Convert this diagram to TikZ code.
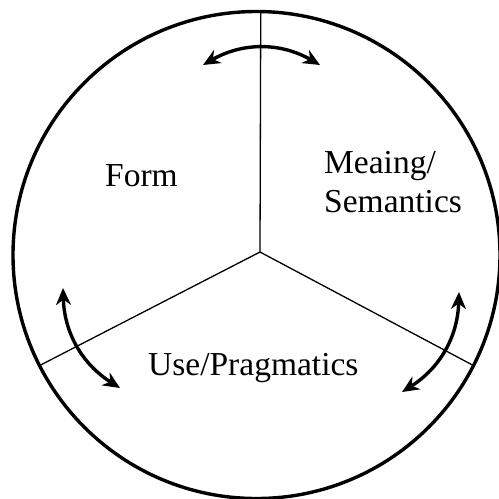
\documentclass[tikz,border=0pt]{standalone}
\usepackage{fontspec}
\setmainfont{Liberation Serif}
\usetikzlibrary{arrows.meta}
\begin{document}
\begin{tikzpicture}[x=1pt,y=-1pt,
  rim/.style={draw, circle, line width=3.4pt, minimum size=487pt, inner sep=0pt, outer sep=0pt},
  spoke/.style={line width=1.3pt},
  dblarrow/.style={line width=3.4pt, {Stealth[length=17pt,width=15pt]}-{Stealth[length=17pt,width=15pt]}},
  lbl/.style={font=\fontsize{33.5}{39}\selectfont, anchor=base west, inner sep=0pt}]
\useasboundingbox[fill=white] (0,0) rectangle (499,499);
\node[rim] (C) at (256.5,255) {};
\coordinate (O) at (260,252);
\draw[spoke] (O) -- (C.89);
\draw[spoke] (O) -- (C.207);
\draw[spoke] (O) -- (C.-27);
% arrows
\coordinate (a1) at (203,65);
\coordinate (a2) at (320,65);
\draw[dblarrow] (a1) to[bend left=30] (a2);
\coordinate (b1) at (63,288);
\coordinate (b2) at (120,388);
\draw[dblarrow] (b1) to[bend right=28] (b2);
\coordinate (c1) at (459,292);
\coordinate (c2) at (402,392);
\draw[dblarrow] (c1) to[bend left=28] (c2);
% labels
\node[lbl] (form) at (105,186) {Form};
\node[lbl] (mean) at (324,173) {Meaing/};
\node[lbl] (sem) at (324,212) {Semantics};
\node[lbl] (use) at (148,375) {Use/Pragmatics};
\end{tikzpicture}
\end{document}
